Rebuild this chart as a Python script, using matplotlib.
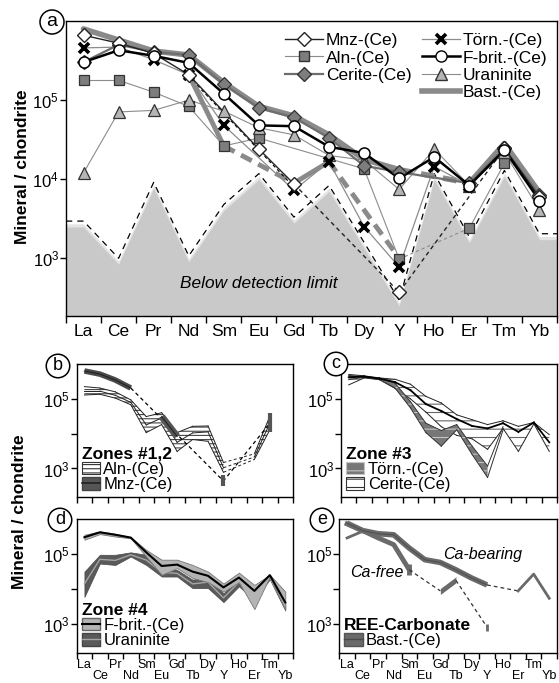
import numpy as np
import matplotlib
matplotlib.use("Agg")
import matplotlib.pyplot as plt
from matplotlib.lines import Line2D
from matplotlib.patches import Patch
from matplotlib.ticker import FixedLocator, NullLocator, FuncFormatter

plt.rcParams['font.family'] = ['Liberation Sans', 'DejaVu Sans']
plt.rcParams['mathtext.default'] = 'regular'
plt.rcParams['hatch.linewidth'] = 0.8

nan = np.nan
REE = ["La", "Ce", "Pr", "Nd", "Sm", "Eu", "Gd", "Tb", "Dy", "Y", "Ho", "Er", "Tm", "Yb"]
X = np.arange(len(REE))

# ── panel a: single-grain patterns, log10(mineral / chondrite) ──
mnz      = [5.82, 5.72, 5.59, 5.32, nan, 4.38, 3.94, nan, nan, 2.57, nan, nan, 4.39, 3.77]
mnz_alt  = [nan, nan, nan, 5.30, nan, nan, 3.90, nan, nan, nan, nan, nan, nan, nan]
aln      = [5.25, 5.25, 5.10, 4.92, 4.42, 4.52, nan, nan, 4.13, 2.99, nan, 3.38, 4.20, nan]
cerite   = [5.48, 5.70, 5.61, 5.57, 5.20, 4.90, 4.78, 4.52, 4.17, 4.09, nan, 3.95, 4.39, 3.80]
torn     = [5.66, 5.67, 5.51, 5.32, 4.68, nan, 3.86, 4.22, 3.40, 2.89, 4.16, 3.92, nan, nan]
fbrit    = [5.48, 5.63, 5.56, 5.47, 5.08, 4.68, 4.67, 4.41, 4.33, 4.01, 4.28, 3.92, 4.37, 3.73]
uran     = [4.08, 4.85, 4.87, 5.00, 4.86, 4.65, 4.56, 4.30, 4.24, 3.87, 4.38, 3.92, 4.34, 3.61]
bast_hi  = [5.90, 5.76, 5.62, 5.57, 5.22, 4.92, 4.80, 4.56, 4.25, 4.12, nan, 3.95, 4.45, 3.83]
bast_lo  = [nan, nan, nan, 5.32, 4.42, nan, 3.95, 4.22, nan, 3.00, nan, nan, nan, nan]
det_lim  = [3.47, 3.00, 3.96, 3.03, 3.68, 4.07, 3.52, 3.92, 3.20, 2.47, 4.07, 3.27, 4.11, 3.31]

# ── panel b: zones #1,2 ──
b_mnz    = [5.80, 5.71, 5.54, 5.31, nan, 4.49, 3.92, nan, nan, 2.64, nan, nan, 4.30, nan]
b_mnz_y  = [2.50, 2.80]
b_mnz_tm = [4.05, 4.60]
b_aln_hi = [5.35, 5.31, 5.20, 4.97, 4.49, 4.60, 4.03, 4.21, 4.22, 3.17, nan, 3.42, 4.50, nan]
b_aln_md = [5.22, 5.22, 5.10, 4.90, 4.25, 4.45, 3.75, 4.02, 4.05, 3.02, nan, 3.33, 4.30, nan]
b_aln_lo = [5.11, 5.13, 5.02, 4.83, 4.03, 4.26, 3.49, 3.83, 3.78, 2.89, nan, 3.26, 4.11, nan]

# ── panel c: zone #3 ──
c_torn_hi = [5.67, 5.64, 5.59, 5.45, 4.92, 4.30, 4.09, 4.26, 3.64, 3.07, 4.20, nan, nan, nan]
c_torn_lo = [5.55, 5.62, 5.55, 5.31, 4.74, 4.03, 3.64, 4.11, 3.40, 2.74, 4.10, nan, nan, nan]
c_cer_hi  = [5.70, 5.66, 5.60, 5.56, 5.42, 5.07, 4.88, 4.54, 4.40, 4.26, 4.37, 4.21, 4.32, 3.97]
c_cer_md  = [5.62, 5.64, 5.58, 5.48, 5.25, 4.85, 4.65, 4.42, 4.22, 4.15, 4.30, 4.05, 4.32, 3.75]
c_cer_lo  = [5.40, 5.60, 5.55, 5.30, 5.00, 4.62, 4.20, 3.95, 3.85, 3.55, 4.15, 3.49, 4.28, 3.49]

# ── panel d: zone #4 ──
d_fb_hi = [5.55, 5.65, 5.58, 5.48, 5.12, 4.84, 4.84, 4.69, 4.50, 4.16, 4.47, 4.12, 4.41, 3.93]
d_fb_md = [5.48, 5.62, 5.55, 5.47, 5.05, 4.66, 4.70, 4.50, 4.38, 4.05, 4.33, 3.95, 4.40, 3.62]
d_fb_lo = [5.41, 5.57, 5.50, 5.45, 4.93, 4.41, 4.60, 4.32, 4.20, 3.93, 4.20, 3.43, 4.36, 3.42]
d_ur_hi = [4.50, 4.98, 4.98, 5.05, 4.98, 4.60, 4.55, 4.27, 4.36, 3.88, 4.30, 3.90, 4.40, 3.60]
d_ur_md = [4.15, 4.85, 4.82, 4.98, 4.83, 4.48, 4.45, 4.15, 4.20, 3.75, 4.20, 3.80, 4.33, 3.50]
d_ur_lo = [3.78, 4.73, 4.69, 4.93, 4.69, 4.36, 4.36, 4.03, 4.03, 3.63, 4.08, 3.69, 4.28, 3.39]

# ── panel e: REE-carbonate ──
e_cab     = [5.88, 5.67, 5.58, 5.55, 5.17, 4.84, 4.76, 4.55, 4.32, 4.12, nan, 3.95, 4.43, 3.74]
e_cab_alt = [5.46, 5.65]
e_cafree  = [5.86, 5.67, 5.46, 5.27, 4.55, nan, 3.95, 4.25, nan, 2.92, nan, nan, nan, nan]
e_sm_bar  = [4.40, 4.72]
e_gdtb_lo = [3.85, 4.18]
e_gdtb_hi = [4.02, 4.35]
e_y_bar   = [2.82, 3.00]


def P(v):
    return 10 ** np.asarray(v, dtype=float)


def seg_plot(ax, vals, dashed=(), skip=(), dash_pat=(4, 2.5), **kw):
    idx = [i for i, v in enumerate(vals) if not np.isnan(v)]
    for a, b in zip(idx[:-1], idx[1:]):
        if a in skip:
            continue
        if a in dashed:
            ax.plot([a, b], P([vals[a], vals[b]]), linestyle=(0, dash_pat), **kw)
        else:
            ax.plot([a, b], P([vals[a], vals[b]]), linestyle='-', **kw)


def style_axis(ax, ylo, labels_x, small):
    ax.set_yscale('log')
    ax.set_xlim(-0.5, 13.5)
    ax.set_ylim(10 ** ylo, 1e6)
    ax.yaxis.set_major_locator(FixedLocator([1e3, 1e4, 1e5]))
    ax.yaxis.set_minor_locator(NullLocator())
    if small:
        ax.yaxis.set_major_formatter(FuncFormatter(
            lambda v, p: "" if abs(v - 1e4) < 1 else r"$10^{%d}$" % round(np.log10(v))))
    else:
        ax.yaxis.set_major_formatter(FuncFormatter(
            lambda v, p: r"$10^{%d}$" % round(np.log10(v))))
    ax.tick_params(axis='y', direction='out', length=4, width=1, labelsize=12, pad=1)
    ax.set_xticks(X)
    ax.set_xticks(np.arange(-0.5, 14, 1), minor=True)
    ax.tick_params(axis='x', which='major', length=0)
    ax.tick_params(axis='x', which='minor', direction='out', length=4 if small else 5, width=1)
    if labels_x and not small:
        ax.set_xticklabels(REE, fontsize=12.5)
        ax.tick_params(axis='x', which='major', pad=6)
    else:
        ax.set_xticklabels([])
        if labels_x:
            # staggered two-row element labels
            for i, name in enumerate(REE):
                ax.annotate(name, xy=(i, 0), xycoords=('data', 'axes fraction'),
                            xytext=(0, -4.5 if i % 2 == 0 else -12.5), textcoords='offset points',
                            ha='center', va='top', fontsize=9)
    for s in ax.spines.values():
        s.set_linewidth(1)


W, H = 559, 683
fig = plt.figure(figsize=(W / 100, H / 100), dpi=100)


def add_ax(l, t, r, b):
    return fig.add_axes([l / W, 1 - b / H, (r - l) / W, (b - t) / H])


def circ(xp, yp, s, size=13):
    fig.text(xp / W, 1 - yp / H, s, ha='center', va='center', fontsize=size,
             bbox=dict(boxstyle='circle,pad=0.18', fc='white', ec='black', lw=1.1))


# ───────────────────────── panel a ─────────────────────────
ax = add_ax(66, 21, 557, 316)
ylo_a = 2.27
xe = np.concatenate([[-0.5], X, [13.5]])
de = np.concatenate([[det_lim[0]], det_lim, [det_lim[-1]]])
ax.fill_between(xe, 10 ** ylo_a, P(de - 0.035), color='#e4e4e4', lw=0, zorder=0)
ax.fill_between(xe, 10 ** ylo_a, P(de - 0.075), color='#c9c9c9', lw=0, zorder=0)
ax.plot(xe, P(de), color='black', lw=0.9, linestyle=(0, (5, 4)), zorder=1)
ax.text(5.0, 10 ** 2.68, "Below detection limit", style='italic', fontsize=12.4,
        ha='center', va='center', zorder=2)

seg_plot(ax, bast_hi, dashed=(9,), color='#8a8a8a', lw=4, zorder=2, dash_pat=(2.5, 1.5),
         solid_capstyle='round')
seg_plot(ax, bast_lo, dashed=(4, 7), color='#8a8a8a', lw=3.5, zorder=2, dash_pat=(2.5, 1.5))
seg_plot(ax, mnz_alt, dashed=(3,), color='black', lw=0.8, zorder=3, dash_pat=(3, 2.5))
seg_plot(ax, aln, dashed=(9,), color='#8c8c8c', lw=0.8, zorder=3, dash_pat=(3, 2.5))
seg_plot(ax, uran, color='#8c8c8c', lw=0.8, zorder=3)
seg_plot(ax, torn, color='#8c8c8c', lw=0.9, zorder=3)
seg_plot(ax, cerite, color='#6e6e6e', lw=1.6, zorder=3)
seg_plot(ax, mnz, dashed=(6, 9), color='#222222', lw=1.0, zorder=3, dash_pat=(3, 2.5))
seg_plot(ax, fbrit, color='black', lw=1.8, zorder=3)

ax.plot(X, P(aln), ls='none', marker='s', ms=7, mfc='#7d7d7d', mec='#333', mew=0.9, zorder=4)
ax.plot(X, P(uran), ls='none', marker='^', ms=8, mfc='#b5b5b5', mec='#333', mew=0.9, zorder=4)
ax.plot(X, P(cerite), ls='none', marker='D', ms=7, mfc='#7d7d7d', mec='#333', mew=0.9, zorder=4)
ax.plot(X, P(torn), ls='none', marker='x', ms=7, mec='black', mew=2.6, zorder=5)
ax.plot(X, P(mnz), ls='none', marker='D', ms=7, mfc='white', mec='#222', mew=1.0, zorder=5)
ax.plot(X, P(fbrit), ls='none', marker='o', ms=8, mfc='white', mec='black', mew=1.1, zorder=5)

style_axis(ax, ylo_a, True, False)

handles = [
    Line2D([], [], color='#222', lw=1.0, marker='D', ms=7, mfc='white', mec='#222'),
    Line2D([], [], color='#8c8c8c', lw=0.8, marker='s', ms=7, mfc='#7d7d7d', mec='#333'),
    Line2D([], [], color='#6e6e6e', lw=1.6, marker='D', ms=7, mfc='#7d7d7d', mec='#333'),
    Line2D([], [], color='none'),
    Line2D([], [], color='#8c8c8c', lw=0.9, marker='x', ms=7, mec='black', mew=2.6),
    Line2D([], [], color='black', lw=1.8, marker='o', ms=8, mfc='white', mec='black'),
    Line2D([], [], color='#8c8c8c', lw=0.8, marker='^', ms=8, mfc='#b5b5b5', mec='#333'),
    Line2D([], [], color='#8a8a8a', lw=4),
]
labels = ["Mnz-(Ce)", "Aln-(Ce)", "Cerite-(Ce)", "", "Törn.-(Ce)", "F-brit.-(Ce)",
          "Uraninite", "Bast.-(Ce)"]
ax.legend(handles, labels, ncol=2, loc='upper right', bbox_to_anchor=(1.005, 1.0),
          frameon=False, fontsize=12.5, handlelength=2.2, handletextpad=0.15,
          columnspacing=0.6, labelspacing=0.12, borderpad=0.2)

fig.text(23 / W, 1 - 167 / H, "Mineral / chondrite", rotation=90, fontsize=12.5,
         fontweight='bold', ha='center', va='center')
circ(52, 22, "a", 14)

small_leg = dict(loc='lower left', frameon=False, fontsize=12, handlelength=1.1,
                 handleheight=0.8, handletextpad=0.2, labelspacing=0.0, borderpad=0.1,
                 borderaxespad=0.2, alignment='left',
                 title_fontproperties={'weight': 'bold', 'size': 12.5})

# ───────────────────────── panel b ─────────────────────────
ax = add_ax(76.7, 364, 293, 497)
ylo_s = 2.18
ax.fill_between(X, P(b_aln_lo), P(b_aln_hi), where=~np.isnan(b_aln_hi),
                facecolor='white', edgecolor='#444', hatch='----', lw=0, zorder=1,
                interpolate=False)
for arr in (b_aln_hi, b_aln_md, b_aln_lo):
    seg_plot(ax, arr, dashed=(9,), color='#222', lw=0.7, zorder=2, dash_pat=(3, 2.5))
ax.plot([3, 9, 12], P([b_mnz[3], b_mnz[9], b_mnz[12]]), color='black', lw=0.9,
        linestyle=(0, (3, 2.5)), zorder=2)
ax.plot(X[:4], P(b_mnz[:4]), color='#4a4a4a', lw=4, solid_capstyle='butt', zorder=3)
ax.plot(X[:4], P(b_mnz[:4]), color='#222', lw=0.8, zorder=3)
ax.plot(X[5:7], P(b_mnz[5:7]), color='#555', lw=5, solid_capstyle='butt', zorder=3)
ax.plot(X[5:7], P(b_mnz[5:7]), color='#222', lw=0.8, zorder=3)
ax.plot([9, 9], P(b_mnz_y), color='#555', lw=3, solid_capstyle='butt', zorder=3)
ax.plot([12, 12], P(b_mnz_tm), color='#555', lw=3, solid_capstyle='butt', zorder=3)
style_axis(ax, ylo_s, False, True)
hb = [Patch(facecolor='white', edgecolor='#333', hatch='----', lw=0.8),
      (Patch(facecolor='#555', edgecolor='#444'), Line2D([], [], color='#222', lw=1.2))]
ax.legend(hb, ["Aln-(Ce)", "Mnz-(Ce)"], title="Zones #1,2", **small_leg)
circ(58, 366, "b")

# ───────────────────────── panel c ─────────────────────────
ax = add_ax(341, 364, 557, 497)
ax.fill_between(X, P(c_cer_lo), P(c_cer_hi), facecolor='white', edgecolor='#666',
                hatch='--', lw=0, zorder=1)
for arr in (c_cer_hi, c_cer_lo):
    seg_plot(ax, arr, color='#222', lw=0.7, zorder=2)
m = ~np.isnan(c_torn_hi)
ax.fill_between(X[m][:-1], P(np.array(c_torn_lo)[m][:-1]), P(np.array(c_torn_hi)[m][:-1]),
                facecolor='#777', edgecolor='#c4c4c4', hatch='--', lw=0, zorder=3)
for arr in (c_torn_hi, c_torn_lo):
    seg_plot(ax, arr, color='#333', lw=0.7, zorder=4)
seg_plot(ax, c_cer_md, color='black', lw=1.3, zorder=5)
style_axis(ax, ylo_s, False, True)
hc = [Patch(facecolor='#777', edgecolor='#c4c4c4', hatch='--', lw=0.8),
      Patch(facecolor='white', edgecolor='#333', hatch='--', lw=0.8)]
ax.legend(hc, ["Törn.-(Ce)", "Cerite-(Ce)"], title="Zone #3", **small_leg)
circ(336, 364, "c")

# ───────────────────────── panel d ─────────────────────────
ax = add_ax(76.7, 519, 293, 653)
ax.fill_between(X, P(d_ur_lo), P(d_ur_hi), facecolor='#5a5a5a', edgecolor='#4a4a4a',
                lw=0.5, zorder=1)
ax.plot(X, P(d_ur_md), color='#a5a5a5', lw=1.0, zorder=2)
ax.fill_between(X, P(d_fb_lo), P(d_fb_hi), facecolor='#b4b4b4', edgecolor='#777',
                lw=0.6, zorder=3)
ax.plot(X, P(d_fb_md), color='black', lw=1.5, zorder=4)
style_axis(ax, ylo_s, True, True)
hd = [(Patch(facecolor='#b4b4b4', edgecolor='#666'), Line2D([], [], color='black', lw=1.5)),
      (Patch(facecolor='#5a5a5a', edgecolor='#444'), Line2D([], [], color='#a5a5a5', lw=1))]
ax.legend(hd, ["F-brit.-(Ce)", "Uraninite"], title="Zone #4", **small_leg)
circ(60, 520, "d")

# ───────────────────────── panel e ─────────────────────────
ax = add_ax(339.3, 519, 557, 653)
ax.plot(X[:10], P(e_cab[:10]), color='#6a6a6a', lw=4, solid_capstyle='butt', zorder=2)
ax.plot(X[:10], P(e_cab[:10]), color='#505050', lw=0.8, zorder=3)
ax.plot(X[:2], P(e_cab_alt), color='#6a6a6a', lw=2, zorder=2)
ax.plot([9, 11], P([e_cab[9], e_cab[11]]), color='#333', lw=0.9,
        linestyle=(0, (3, 2.5)), zorder=2)
ax.plot(X[11:], P(e_cab[11:]), color='#6a6a6a', lw=2, zorder=2)
ax.plot(X[:5], P(e_cafree[:5]), color='#6a6a6a', lw=3.5, zorder=2)
ax.plot([4, 4], P(e_sm_bar), color='#6a6a6a', lw=3.5, solid_capstyle='butt', zorder=2)
ax.plot([4, 6], P([e_cafree[4], e_cafree[6]]), color='#333', lw=0.9,
        linestyle=(0, (3, 2.5)), zorder=2)
ax.fill_between([6, 7], P(e_gdtb_lo), P(e_gdtb_hi), color='#6a6a6a', lw=0, zorder=2)
ax.plot([7, 9], P([e_cafree[7], e_cafree[9]]), color='#333', lw=0.9,
        linestyle=(0, (3, 2.5)), zorder=2)
ax.plot([9, 9], P(e_y_bar), color='#6a6a6a', lw=2, solid_capstyle='butt', zorder=2)
ax.text(8.7, 10 ** 4.98, "Ca-bearing", style='italic', fontsize=11.5, ha='center', va='center')
ax.text(1.9, 10 ** 4.47, "Ca-free", style='italic', fontsize=11.5, ha='center', va='center')
style_axis(ax, ylo_s, True, True)
he = [(Patch(facecolor='#6a6a6a', edgecolor='#555'), Line2D([], [], color='#4a4a4a', lw=1))]
ax.legend(he, ["Bast.-(Ce)"], title="REE-Carbonate", **small_leg)
circ(322, 520, "e")

fig.text(20 / W, 1 - 512 / H, "Mineral / chondrite", rotation=90, fontsize=12.5,
         fontweight='bold', ha='center', va='center')

fig.savefig("out.png", dpi=100)
